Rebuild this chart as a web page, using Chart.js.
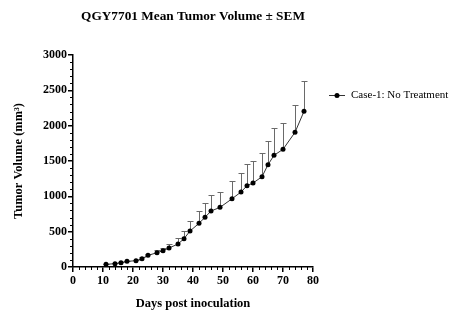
<!DOCTYPE html>
<html>
<head>
<meta charset="utf-8">
<script src="https://cdn.jsdelivr.net/npm/chart.js@4.4.0/dist/chart.umd.min.js"></script>
<style>
html, body { margin: 0; padding: 0; background: #fff; }
</style>
</head>
<body>
<canvas id="tumor-chart" width="455" height="334"></canvas>
<script>
// measurement days and group mean / SEM (mm³)
const days = [11, 14, 16, 18, 21, 23, 25, 28, 30, 32, 35, 37, 39, 42, 44, 46, 49, 53, 56, 58, 60, 63, 65, 67, 70, 74, 77];
const meanVolume = [38, 47, 61, 80, 89, 117, 165, 202, 231, 269, 325, 400, 509, 618, 703, 792, 844, 965, 1061, 1150, 1188, 1277, 1447, 1580, 1665, 1905, 2202];
const semVolume = [5, 7, 9, 11, 14, 18, 26, 32, 42, 60, 88, 105, 142, 178, 197, 226, 221, 255, 264, 307, 312, 340, 331, 386, 376, 386, 429];

const xTicks = [0, 10, 20, 30, 40, 50, 60, 70, 80];
const yTicks = [0, 500, 1000, 1500, 2000, 2500, 3000];
const xMinorStep = 2;
const yMinorStep = 100;

const seriesLabel = 'Case-1: No Treatment';
const chartTitle = 'QGY7701 Mean Tumor Volume \u00b1 SEM';

const serif = '"Liberation Serif", "Times New Roman", serif';

// upper SEM whiskers, drawn under the points
const semBars = {
    id: 'semBars',
    beforeDatasetsDraw(chart) {
        const { ctx, scales: { x, y } } = chart;
        ctx.save();
        ctx.strokeStyle = '#6a6a6a';
        ctx.lineWidth = 1;
        days.forEach((d, i) => {
            const px = Math.round(x.getPixelForValue(d)) + 0.5;
            const y0 = y.getPixelForValue(meanVolume[i]);
            const y1 = Math.round(y.getPixelForValue(meanVolume[i] + semVolume[i])) + 0.5;
            ctx.beginPath();
            ctx.moveTo(px, y0);
            ctx.lineTo(px, y1);
            ctx.moveTo(px - 3, y1);
            ctx.lineTo(px + 3, y1);
            ctx.stroke();
        });
        ctx.restore();
    }
};

// minor ticks on both axes + the legend entry on the right
const extras = {
    id: 'extras',
    afterDraw(chart) {
        const { ctx, chartArea, scales: { x, y } } = chart;
        ctx.save();
        ctx.strokeStyle = '#000';
        ctx.lineWidth = 1;
        for (let v = x.min; v <= x.max; v += xMinorStep) {
            if (xTicks.includes(v)) continue;
            const px = Math.round(x.getPixelForValue(v)) + 0.5;
            ctx.beginPath();
            ctx.moveTo(px, chartArea.bottom);
            ctx.lineTo(px, chartArea.bottom + 3);
            ctx.stroke();
        }
        for (let v = y.min; v <= y.max; v += yMinorStep) {
            if (yTicks.includes(v)) continue;
            const py = Math.round(y.getPixelForValue(v)) + 0.5;
            ctx.beginPath();
            ctx.moveTo(chartArea.left, py);
            ctx.lineTo(chartArea.left - 3, py);
            ctx.stroke();
        }

        // legend
        const lx = chartArea.right + 16;
        const ly = 95.5;
        ctx.strokeStyle = '#333';
        ctx.beginPath();
        ctx.moveTo(lx, ly);
        ctx.lineTo(lx + 16, ly);
        ctx.stroke();
        ctx.fillStyle = '#000';
        ctx.beginPath();
        ctx.arc(lx + 8, ly, 2.5, 0, Math.PI * 2);
        ctx.fill();
        ctx.font = '11px ' + serif;
        ctx.textBaseline = 'middle';
        ctx.fillText(seriesLabel, lx + 22, ly);
        ctx.restore();
    }
};

const axisFont = { family: serif, size: 12, weight: 'bold' };

new Chart(document.getElementById('tumor-chart').getContext('2d'), {
    type: 'line',
    data: {
        datasets: [{
            label: seriesLabel,
            data: days.map((d, i) => ({ x: d, y: meanVolume[i] })),
            borderColor: '#333',
            borderWidth: 1,
            pointRadius: 2.5,
            pointBackgroundColor: '#000',
            pointBorderWidth: 0,
            tension: 0
        }]
    },
    options: {
        responsive: false,
        animation: false,
        layout: { padding: { left: 0, right: 142, top: 0, bottom: 0 } },
        plugins: {
            legend: { display: false },
            tooltip: { enabled: false },
            title: {
                display: true,
                text: chartTitle,
                fullSize: false,
                color: '#000',
                font: { family: serif, size: 13.3, weight: 'bold' },
                padding: { top: 9, bottom: 30 }
            }
        },
        scales: {
            x: {
                type: 'linear',
                min: 0,
                max: 80,
                afterBuildTicks: s => { s.ticks = xTicks.map(v => ({ value: v })); },
                afterFit: s => { s.height = 67; },
                border: { color: '#000', width: 1.5 },
                grid: { drawOnChartArea: false, tickLength: 5, color: '#000', lineWidth: 1.5 },
                ticks: { color: '#000', font: axisFont, padding: 2, maxRotation: 0, callback: v => String(v) },
                title: {
                    display: true,
                    text: 'Days post inoculation',
                    color: '#000',
                    font: { family: serif, size: 12.5, weight: 'bold' },
                    padding: { top: 0, bottom: 23 }
                }
            },
            y: {
                type: 'linear',
                min: 0,
                max: 3000,
                afterBuildTicks: s => { s.ticks = yTicks.map(v => ({ value: v })); },
                afterFit: s => { s.width = 73; },
                border: { color: '#000', width: 1.5 },
                grid: { drawOnChartArea: false, tickLength: 5, color: '#000', lineWidth: 1.5 },
                ticks: { color: '#000', font: axisFont, padding: 1, callback: v => String(v) },
                title: {
                    display: true,
                    text: 'Tumor Volume (mm\u00b3)',
                    color: '#000',
                    font: { family: serif, size: 12.5, weight: 'bold' },
                    padding: { top: 11, bottom: 0 }
                }
            }
        }
    },
    plugins: [semBars, extras]
});
</script>
</body>
</html>
